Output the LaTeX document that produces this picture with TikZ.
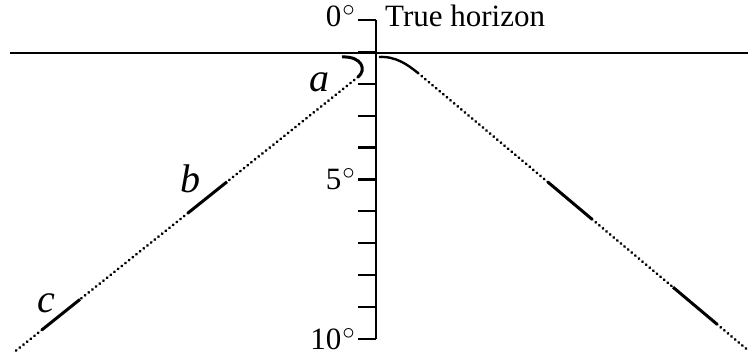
\documentclass[tikz,border=0pt]{standalone}
\usepackage{fontspec}
\setmainfont{Liberation Serif}
\newcommand\degsign{\hspace{1pt}\raisebox{0.34em}{\fontsize{23}{23}\selectfont$\circ$}}
\begin{document}
\begin{tikzpicture}[x=1pt,y=-1pt,
  lbl/.style={font=\fontsize{31}{34}\selectfont, inner sep=0pt},
  itlbl/.style={font=\fontsize{40}{44}\selectfont\itshape, inner sep=0pt},
  dotline/.style={line width=2.8pt, line cap=round, dash pattern=on 0.4pt off 4.3pt},
  thickseg/.style={line width=3pt},
  axisline/.style={line width=2.2pt},
  horizonline/.style={line width=1.6pt}]
\useasboundingbox (0,0) rectangle (748,358);
% horizon
\coordinate (hL) at (10,53);
\coordinate (hR) at (748,53);
\draw[horizonline] (hL) -- (hR);
% scale axis
\coordinate (ax0) at (376,20);
\coordinate (ax10) at (376,339);
\draw[axisline] (ax0) -- (ax10);
\foreach \k in {0,...,10} {
  \coordinate (t\k) at (376,{20+31.9*\k});
  \coordinate (tt\k) at (358,{20+31.9*\k});
  \draw[axisline] (t\k) -- (tt\k);
}
\node[lbl, anchor=base east] (l0) at (355,27) {0\degsign};
\node[lbl, anchor=base east] (l5) at (355,190) {5\degsign};
\node[lbl, anchor=base east] (l10) at (355,350) {10\degsign};
\node[lbl, anchor=base west] (th) at (385,27) {True horizon};
% left (apparent) line
\coordinate (a0) at (342,57);
\coordinate (a1) at (358,77);
\coordinate (b1) at (227,181.8);
\coordinate (b0) at (188,213);
\coordinate (c1) at (80,299.4);
\coordinate (c0) at (42,329.8);
\coordinate (lend) at (16,350.6);
\draw[thickseg] (a0) .. controls (362,56) and (367,70) .. (a1);
\draw[dotline] (a1) -- (b1);
\draw[thickseg] (b1) -- (b0);
\draw[dotline] (b0) -- (c1);
\draw[thickseg] (c1) -- (c0);
\draw[dotline] (c0) -- (lend);
\node[itlbl, anchor=base] (la) at (319,92) {a};
\node[itlbl, anchor=base] (lb) at (190,193) {b};
\node[itlbl, anchor=base] (lc) at (46,313) {c};
% right line
\coordinate (r0) at (379,57);
\coordinate (r1) at (418,73);
\coordinate (d1) at (548,182.2);
\coordinate (d2) at (592,219.2);
\coordinate (e1) at (673,287.2);
\coordinate (e2) at (717,324.2);
\coordinate (rend) at (747,349.4);
\draw[thickseg, line width=2.4pt] (r0) .. controls (396,56) and (408,65) .. (r1);
\draw[dotline] (r1) -- (d1);
\draw[thickseg] (d1) -- (d2);
\draw[dotline] (d2) -- (e1);
\draw[thickseg] (e1) -- (e2);
\draw[dotline] (e2) -- (rend);
\end{tikzpicture}
\end{document}
